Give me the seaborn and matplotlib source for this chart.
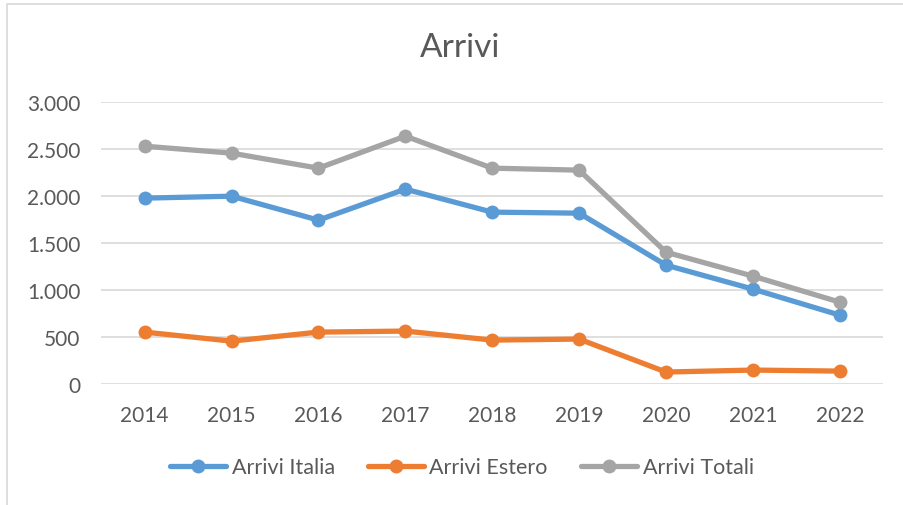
import matplotlib.pyplot as plt
import matplotlib.patches as mpatches
import pandas as pd
import seaborn as sns

years = ["2014", "2015", "2016", "2017", "2018", "2019", "2020", "2021", "2022"]
arrivi_italia = [1979, 2000, 1745, 2075, 1830, 1819, 1266, 1011, 734]
arrivi_estero = [553, 457, 553, 564, 468, 479, 128, 149, 138]
arrivi_totali = [2532, 2458, 2298, 2639, 2298, 2277, 1404, 1149, 872]

series = ["Arrivi Italia", "Arrivi Estero", "Arrivi Totali"]
colors = ["#5B9BD5", "#ED7D31", "#A5A5A5"]

df = pd.DataFrame({
    "Anno": years * 3,
    "Valore": arrivi_italia + arrivi_estero + arrivi_totali,
    "Serie": [s for s in series for _ in years],
})

sns.set_theme(style="white")
plt.rcParams["font.family"] = ["Lato", "DejaVu Sans"]
text_color = "#595959"

fig = plt.figure(figsize=(9.04, 5.06), dpi=100)
ax = fig.add_axes([0.112, 0.239, 0.865, 0.557])

sns.lineplot(data=df, x="Anno", y="Valore", hue="Serie", hue_order=series,
             palette=colors, marker="o", markersize=10, markeredgewidth=0,
             linewidth=3.8, sort=False, ax=ax)

ax.set_xlim(-0.5, len(years) - 0.5)
ax.set_ylim(0, 3000)
ax.set_yticks(range(0, 3001, 500))
ax.set_yticklabels([f"{v:,}".replace(",", ".") for v in range(0, 3001, 500)])
ax.yaxis.grid(True, color="#D9D9D9", linewidth=1.2)
ax.set_axisbelow(True)
for sp in ax.spines.values():
    sp.set_visible(False)
ax.tick_params(axis="both", length=0, labelsize=15, colors=text_color)
ax.tick_params(axis="x", pad=15)
ax.tick_params(axis="y", pad=15)
ax.set_xlabel("")
ax.set_ylabel("")

fig.text(0.509, 0.905, "Arrivi", ha="center", va="center", fontsize=24, color=text_color)

handles, labels = ax.get_legend_handles_labels()
ax.legend_.remove()
leg = fig.legend(handles, labels, loc="center", bbox_to_anchor=(0.511, 0.075), ncol=3,
                 frameon=False, fontsize=15.5, handlelength=2.6, handletextpad=0.25,
                 columnspacing=1.55)
for t in leg.get_texts():
    t.set_color(text_color)

# chart frame border (partially visible as in reference)
fig.patches.append(mpatches.Rectangle((7 / 904, -0.1), 1.2, (1 - 5 / 506) + 0.1,
                                      transform=fig.transFigure, fill=False,
                                      edgecolor="#D9D9D9", linewidth=1.2))

fig.savefig("out.png", dpi=100)
